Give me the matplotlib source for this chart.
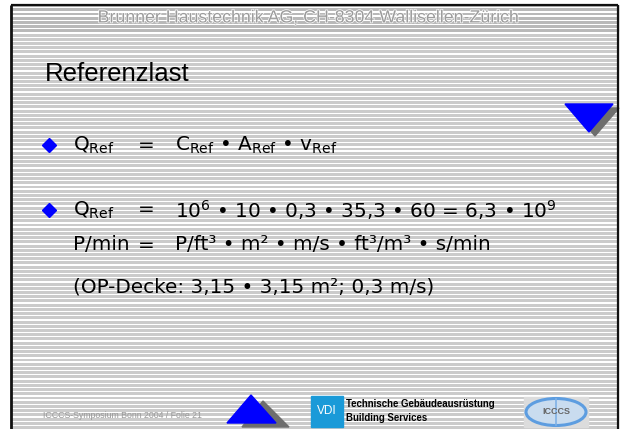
import numpy as np
import matplotlib
matplotlib.use("Agg")
import matplotlib.pyplot as plt
from matplotlib.patches import Rectangle, Polygon, Ellipse
import matplotlib.patheffects as pe

plt.rcParams['font.family'] = ['Liberation Sans', 'DejaVu Sans']
plt.rcParams['mathtext.fontset'] = 'custom'
plt.rcParams['mathtext.rm'] = 'DejaVu Sans'
plt.rcParams['mathtext.it'] = 'DejaVu Sans:italic'

# slide texts
header = "Brunner Haustechnik AG, CH-8304 Wallisellen-Zürich"
title = "Referenzlast"
left_col = ["Q$_{\\mathrm{Ref}}$", "Q$_{\\mathrm{Ref}}$", "P/min", None]
eq_col = ["=", "=", "=", None]
right_col = ["C$_{\\mathrm{Ref}}$ • A$_{\\mathrm{Ref}}$ • v$_{\\mathrm{Ref}}$",
             "10$^{6}$ • 10 • 0,3 • 35,3 • 60 = 6,3 • 10$^{9}$",
             "P/ft³ • m² • m/s • ft³/m³ • s/min",
             None]
line_y = [145, 210, 245, 287]
bullets = [True, True, False, False]
note = "(OP-Decke: 3,15 • 3,15 m²; 0,3 m/s)"
footer = "ICCCS-Symposium Bonn 2004 / Folie 21"
vdi_lines = ["Technische Gebäudeausrüstung", "Building Services"]

body = ['DejaVu Sans']
fs = 14.4

W, H = 620, 429
fig = plt.figure(figsize=(W / 100, H / 100), dpi=100)
ax = fig.add_axes([0, 0, 1, 1])
ax.set_xlim(0, W)
ax.set_ylim(H, 0)
ax.axis('off')

# striped background
ax.add_patch(Rectangle((11, 5), 607, H, color='#cbcbcb', zorder=0))
ax.add_patch(Rectangle((11, 5), 607, 26, color='#b9b9b9', zorder=0))
y = 7.0
while y < H:
    ax.add_patch(Rectangle((11, y), 607, 1.3, color='white', lw=0, zorder=0.5))
    y += 4.22

# frame (left, top, right)
ax.plot([11, 11], [H, 5], color='#111111', lw=2.0, solid_capstyle='butt', zorder=5)
ax.plot([11, 618], [5, 5], color='#111111', lw=1.6, solid_capstyle='butt', zorder=5)
ax.plot([618, 618], [5, H], color='#111111', lw=1.6, solid_capstyle='butt', zorder=5)

# header
ax.text(308, 18, header, fontsize=12.8, color='#9c9c9c', ha='center', va='center',
        path_effects=[pe.withStroke(linewidth=1.0, foreground='white')], zorder=3)

# title
ax.text(45, 74, title, fontsize=18.5, color='black', ha='left', va='center', zorder=3)

# formula lines
for i in range(len(line_y)):
    if bullets[i]:
        ax.plot(48.5, line_y[i], marker='D', color='#0000ff', markersize=7.2, zorder=3)
    if left_col[i] is not None:
        ax.text(73, line_y[i], left_col[i], fontsize=fs, family=body, ha='left', va='center', zorder=3)
        ax.text(138, line_y[i], eq_col[i], fontsize=fs, family=body, ha='left', va='center', zorder=3)
        ax.text(175, line_y[i], right_col[i], fontsize=fs, family=body, ha='left', va='center', zorder=3)
ax.text(73, line_y[3], note, fontsize=fs, family=body, ha='left', va='center', zorder=3)

# down arrow triangle (top right)
ax.add_patch(Polygon([(571, 108), (619, 108), (595, 136)], color='#6e6e6e', zorder=2))
ax.add_patch(Polygon([(565, 104), (613, 104), (589, 132)], color='#0000ff', zorder=3))

# up arrow triangle (footer)
ax.add_patch(Polygon([(242, 427), (289, 427), (263, 401)], color='#6e6e6e', zorder=2))
ax.add_patch(Polygon([(227, 423), (276, 423), (251, 395)], color='#0000ff', zorder=3))

# footer text
ax.text(43, 415, footer, fontsize=6.3, color='#999999', ha='left', va='center', zorder=3)

# VDI logo
ax.add_patch(Rectangle((311, 396), 32, 31, color='#1a9ad8', zorder=3))
ax.text(327, 411.5, "VDI", fontsize=8.5, color='white', ha='center', va='center', zorder=4)
ax.text(346, 404, vdi_lines[0], fontsize=6.9, fontweight='bold', ha='left', va='center', zorder=3)
ax.text(346, 418, vdi_lines[1], fontsize=6.9, fontweight='bold', ha='left', va='center', zorder=3)

# ICCCS logo
ax.add_patch(Rectangle((524, 397), 64, 30, color='#dcdcdc', zorder=3))
ax.add_patch(Ellipse((556, 412), 60, 27, facecolor='#c9dcef', edgecolor='#5d9de0', lw=2.2, zorder=4))
ax.plot([556, 556], [399, 425], color='#7fb1e6', lw=1.2, zorder=4)
ax.text(556, 412, "ICCCS", fontsize=6.5, fontweight='bold', color='#666666', ha='center', va='center', zorder=5)

fig.savefig("out.png", dpi=100)
